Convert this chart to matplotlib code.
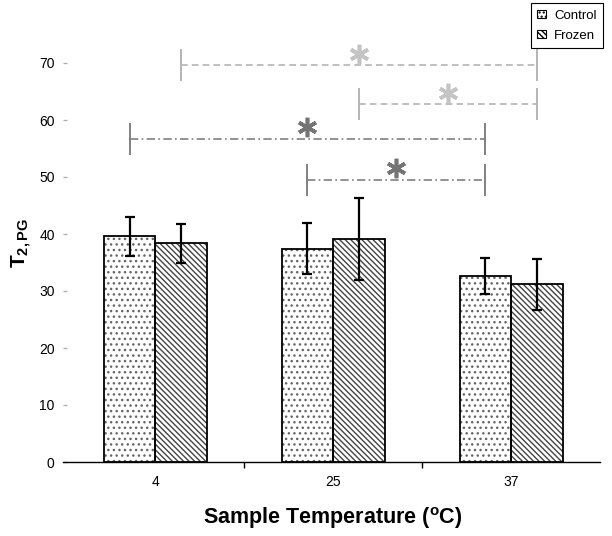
import matplotlib
matplotlib.use("Agg")
import matplotlib.pyplot as plt
from matplotlib.patches import Patch
import numpy as np

plt.rcParams['font.family'] = ['Liberation Sans', 'DejaVu Sans']
plt.rcParams['mathtext.fontset'] = 'custom'
plt.rcParams['mathtext.rm'] = 'Liberation Sans:bold'
plt.rcParams['mathtext.it'] = 'Liberation Sans:bold'
plt.rcParams['mathtext.bf'] = 'Liberation Sans:bold'
plt.rcParams['hatch.linewidth'] = 1.0

# ---- data ----
categories = ['4', '25', '37']
series_names = ['Control', 'Frozen']
control_mean = [39.6, 37.4, 32.6]
control_err = [3.4, 4.5, 3.2]
frozen_mean = [38.4, 39.1, 31.2]
frozen_err = [3.4, 7.2, 4.5]
# significance brackets: (category index, series index) of both ends
sig_start = [(0, 1), (1, 1), (0, 0), (1, 0)]
sig_end = [(2, 1), (2, 1), (2, 0), (2, 0)]
sig_height = [69.6, 62.8, 56.7, 49.5]
sig_group = ['light', 'light', 'dark', 'dark']
yticks = [0, 10, 20, 30, 40, 50, 60, 70]

fig = plt.figure(figsize=(6.12, 5.36), dpi=100)
ax = fig.add_axes([63 / 612, 74 / 536, 537 / 612, 427.5 / 536])

centers = np.arange(len(categories)) + 0.5
bw = 0.29
offsets = [-bw / 2, bw / 2]
hatches = ['...', '\\' * 6]
hatch_cols = ['#666666', '#444444']
means = [control_mean, frozen_mean]
errs = [control_err, frozen_err]

for s in range(2):
    x = centers + offsets[s]
    ax.bar(x, means[s], bw, color='white', edgecolor=hatch_cols[s],
           hatch=hatches[s], linewidth=0, zorder=2)
    ax.bar(x, means[s], bw, fill=False, edgecolor='black', linewidth=1.3, zorder=3)
    ax.errorbar(x, means[s], yerr=errs[s], fmt='none', ecolor='black',
                elinewidth=1.6, capsize=3.6, capthick=1.6, zorder=4)

styles = {
    'light': dict(color='#b4b4b4', ls=(0, (4, 2.5)), star='#c4c4c4'),
    'dark': dict(color='#808080', ls=(0, (5, 2, 1, 2)), star='#747474'),
}
tick_h = 2.6
for (c0, s0), (c1, s1), h, g in zip(sig_start, sig_end, sig_height, sig_group):
    st = styles[g]
    x0 = centers[c0] + offsets[s0]
    x1 = centers[c1] + offsets[s1]
    ax.plot([x0, x1], [h, h], color=st['color'], ls=st['ls'], lw=1.2, zorder=5)
    for xx in (x0, x1):
        ax.plot([xx, xx], [h - tick_h, h + tick_h], color=st['color'], lw=1.4, zorder=5)
    ax.plot([(x0 + x1) / 2], [h + 2.0], marker=(6, 2, 0), ms=14, color=st['star'],
            mec=st['star'], mew=2.6, ls='none', zorder=6)

ax.set_xlim(-0.02, 3.0)
ax.set_ylim(0, 75)
ax.set_yticks(yticks)
ax.set_yticklabels([str(t) for t in yticks], fontsize=10)
ax.set_xticks(centers)
ax.set_xticklabels(categories, fontsize=10)
ax.set_xticks([1, 2], minor=True)
ax.tick_params(axis='x', which='major', length=0, pad=9)
ax.tick_params(axis='x', which='minor', length=4, width=1, direction='out', color='black')
ax.tick_params(axis='y', which='major', length=3, width=1, direction='in',
               color='#b0b0b0', pad=6)
for sp in ['left', 'top', 'right']:
    ax.spines[sp].set_visible(False)
ax.spines['bottom'].set_linewidth(1.0)

ax.set_xlabel('Sample Temperature ($^{o}$C)', fontsize=15.5, fontweight='bold', va='center')
ax.xaxis.set_label_coords(0.503, -0.131)
ax.set_ylabel(r'$\mathrm{T_{2,PG}}$', fontsize=15, va='center')
ax.yaxis.set_label_coords(-0.076, 0.512)

handles = [Patch(facecolor='white', edgecolor='black', hatch='....', linewidth=0.8),
           Patch(facecolor='white', edgecolor='black', hatch='\\' * 6, linewidth=0.8)]
leg = fig.legend(handles, series_names, loc='upper right',
                 bbox_to_anchor=(603 / 612, 1 - 3 / 536), borderaxespad=0,
                 fontsize=9.5, frameon=True, fancybox=False, framealpha=1,
                 edgecolor='black', handlelength=0.65, handleheight=0.65,
                 handletextpad=0.6, borderpad=0.5, labelspacing=0.6)
leg.get_frame().set_linewidth(0.8)

fig.savefig('out.png', dpi=100)
